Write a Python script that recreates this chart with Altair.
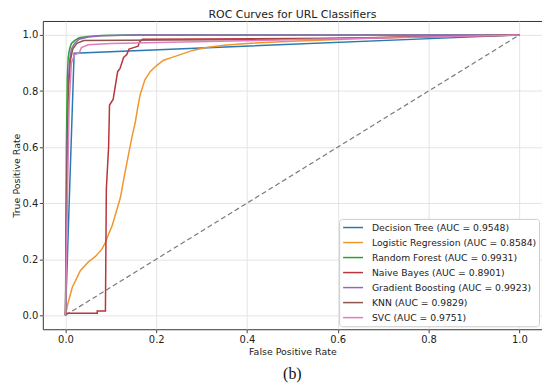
import altair as alt
import pandas as pd

# ---- data ----
names = ["Decision Tree", "Logistic Regression", "Random Forest", "Naive Bayes",
         "Gradient Boosting", "KNN", "SVC"]
aucs = ["0.9548", "0.8584", "0.9931", "0.8901", "0.9923", "0.9829", "0.9751"]
colors = ["#2a79b0", "#f0962c", "#2ca02c", "#b8353a", "#9467bd", "#8c564b", "#e07cc0"]

dt_fpr = [0.0, 0.019, 1.0]
dt_tpr = [0.0, 0.935, 1.0]

lr_fpr = [0.0, 0.005, 0.015, 0.033, 0.05, 0.066, 0.08, 0.088, 0.095, 0.103, 0.112, 0.121,
          0.13, 0.139, 0.147, 0.154, 0.16, 0.165, 0.175, 0.187, 0.2, 0.216, 0.235, 0.253,
          0.28, 0.31, 0.35, 0.4, 0.5, 0.6, 0.7, 0.8, 0.9, 1.0]
lr_tpr = [0.0, 0.04, 0.1, 0.16, 0.19, 0.21, 0.235, 0.26, 0.29, 0.32, 0.37, 0.42,
          0.5, 0.575, 0.64, 0.69, 0.75, 0.79, 0.84, 0.87, 0.89, 0.91, 0.92, 0.93,
          0.945, 0.955, 0.963, 0.97, 0.978, 0.984, 0.99, 0.994, 0.997, 1.0]

rf_fpr = [0.0, 0.002, 0.004, 0.006, 0.009, 0.013, 0.02, 0.03, 0.05, 0.08, 0.15, 1.0]
rf_tpr = [0.0, 0.6, 0.85, 0.92, 0.95, 0.97, 0.98, 0.99, 0.995, 0.998, 1.0, 1.0]

nb_fpr = [0.0, 0.0, 0.07, 0.07, 0.088, 0.09, 0.095, 0.097, 0.105, 0.11, 0.115, 0.12,
          0.128, 0.135, 0.14, 0.15, 0.16, 0.163, 0.17, 0.6, 1.0]
nb_tpr = [0.0, 0.007, 0.007, 0.015, 0.015, 0.45, 0.6, 0.75, 0.77, 0.82, 0.87, 0.88,
          0.92, 0.93, 0.95, 0.955, 0.96, 0.975, 0.985, 0.988, 1.0]

gb_fpr = [0.0, 0.003, 0.006, 0.009, 0.013, 0.02, 0.03, 0.05, 0.08, 0.15, 1.0]
gb_tpr = [0.0, 0.55, 0.82, 0.91, 0.95, 0.97, 0.985, 0.993, 0.997, 1.0, 1.0]

knn_fpr = [0.0, 0.003, 0.007, 0.011, 0.016, 0.025, 0.04, 0.5, 1.0]
knn_tpr = [0.0, 0.5, 0.82, 0.91, 0.95, 0.97, 0.98, 0.985, 1.0]

svc_fpr = [0.0, 0.004, 0.008, 0.013, 0.02, 0.03, 0.035, 0.05, 0.1, 1.0]
svc_tpr = [0.0, 0.4, 0.75, 0.9, 0.93, 0.935, 0.955, 0.965, 0.97, 1.0]

diag_x = [0.0, 1.0]
diag_y = [0.0, 1.0]
ticks = [0.0, 0.2, 0.4, 0.6, 0.8, 1.0]

# ---- build table ----
curves = [(dt_fpr, dt_tpr), (lr_fpr, lr_tpr), (rf_fpr, rf_tpr), (nb_fpr, nb_tpr),
          (gb_fpr, gb_tpr), (knn_fpr, knn_tpr), (svc_fpr, svc_tpr)]
labels = [f"{n} (AUC = {a})" for n, a in zip(names, aucs)]
rows = []
for lab, (fx, fy) in zip(labels, curves):
    for i, (a, b) in enumerate(zip(fx, fy)):
        rows.append({"model": lab, "fpr": a, "tpr": b, "idx": i})
df = pd.DataFrame(rows)
diag = pd.DataFrame({"fpr": diag_x, "tpr": diag_y})

W, H = 502, 310
xscale = alt.Scale(domain=[-0.05, 1.05], nice=False, zero=False)
yscale = alt.Scale(domain=[-0.05, 1.05], nice=False, zero=False)

xax = alt.Axis(values=ticks, format=".1f", title="False Positive Rate")
yax = alt.Axis(values=ticks, format=".1f", title="True Positive Rate")

lines = alt.Chart(df).mark_line(strokeWidth=1.5, clip=True).encode(
    x=alt.X("fpr:Q", scale=xscale, axis=xax),
    y=alt.Y("tpr:Q", scale=yscale, axis=yax),
    color=alt.Color("model:N", sort=labels,
                    scale=alt.Scale(domain=labels, range=colors),
                    legend=alt.Legend(title=None, orient="bottom-right", offset=3.5,
                                      symbolType="M-0.94,0H3.06", symbolSize=100,
                                      symbolStrokeWidth=1.5, labelFontSize=9.3,
                                      labelFont="DejaVu Sans", labelColor="#222",
                                      labelLimit=300, rowPadding=3.1, labelOffset=18.3,
                                      padding=2.7, strokeColor="#cccccc",
                                      fillColor="white", cornerRadius=3)),
    order=alt.Order("idx:Q"),
)

diag_line = alt.Chart(diag).mark_line(strokeDash=[5, 3], color="#7a7a7a",
                                      strokeWidth=1.2).encode(
    x=alt.X("fpr:Q", scale=xscale),
    y=alt.Y("tpr:Q", scale=yscale),
)

sub = alt.Chart(pd.DataFrame({"t": ["(b)"]})).mark_text(
    font="Liberation Serif", fontSize=16, color="#111", baseline="alphabetic",
    align="center").encode(
    text="t:N", x=alt.value(W / 2), y=alt.value(360))

chart = alt.layer(diag_line, lines, sub).properties(
    width=W, height=H,
    title=alt.TitleParams("ROC Curves for URL Classifiers", fontSize=11,
                          font="DejaVu Sans", fontWeight="normal", color="#222",
                          offset=1),
    padding={"left": 35, "top": 12, "right": 0, "bottom": 53},
    autosize=alt.AutoSizeParams(type="none"),
).configure_view(stroke="#333", strokeWidth=1).configure_axis(
    domain=False, tickSize=3.5, tickColor="#444", gridColor="#dddddd",
    gridWidth=0.8, labelFont="DejaVu Sans", labelFontSize=10, labelColor="#222",
    titleFont="DejaVu Sans", titleFontSize=9.5, titleFontWeight="normal",
    titleColor="#222", labelPadding=1.5,
).configure_axisX(titlePadding=2).configure_axisY(titlePadding=1)

chart.save("out.html", embed_options={"renderer": "svg", "actions": False})
